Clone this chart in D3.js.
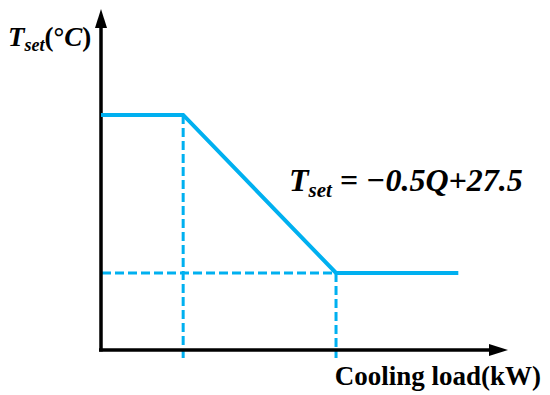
<!DOCTYPE html>
<html>
<head>
<meta charset="utf-8">
<script src="https://cdn.jsdelivr.net/npm/d3@7"></script>
<style>
  body { margin: 0; background: #fff; }
  svg text { font-family: "Liberation Serif", "Times New Roman", serif; font-weight: bold; }
</style>
</head>
<body>
<div id="viz"></div>
<script>
const width = 550
const height = 395

// schematic setpoint curve: Tset = -0.5Q + 27.5 between the two breakpoints
const loadQ = [-0.15, 2, 6, 9.2]
const tsetValues = [26.5, 26.5, 24.5, 24.5]
const breakQ = [2, 6]
const breakT = [26.5, 24.5]

const blue = "#00b0f0"

const xScale = d3.scaleLinear().domain([-0.15, 10.5]).range([101, 508])
const yScale = d3.scaleLinear().domain([23.525, 27.84]).range([350, 9])

const svg = d3.select("#viz").append("svg")
  .attr("width", width)
  .attr("height", height)

const x0 = xScale.domain()[0]
const y0 = yScale.domain()[0]

// dashed guide lines
svg.selectAll(".vguide")
  .data(breakQ)
  .enter().append("line")
  .attr("class", "vguide")
  .attr("x1", d => xScale(d))
  .attr("x2", d => xScale(d))
  .attr("y1", (d, i) => yScale(breakT[i]))
  .attr("y2", yScale(y0) + 8)
  .attr("stroke", blue)
  .attr("stroke-width", 3)
  .attr("stroke-dasharray", "9,4")

svg.append("line")
  .attr("x1", xScale(x0) + 1)
  .attr("x2", xScale(breakQ[1]))
  .attr("y1", yScale(breakT[1]))
  .attr("y2", yScale(breakT[1]))
  .attr("stroke", blue)
  .attr("stroke-width", 3)
  .attr("stroke-dasharray", "9,4")

// axes without ticks
const xAxisG = svg.append("g")
  .attr("transform", "translate(0," + yScale(y0) + ")")
  .call(d3.axisBottom(xScale).tickValues([]).tickSizeOuter(0))
xAxisG.select(".domain")
  .attr("d", "M" + (xScale(x0) - 2) + ",0H" + (xScale.range()[1] - 16))
  .attr("stroke", "#000")
  .attr("stroke-width", 3.5)

const yAxisG = svg.append("g")
  .attr("transform", "translate(" + xScale(x0) + ",0)")
  .call(d3.axisLeft(yScale).tickValues([]).tickSizeOuter(0))
yAxisG.select(".domain")
  .attr("d", "M0," + (yScale(y0) + 1.5) + "V" + (yScale.range()[1] + 16))
  .attr("stroke", "#000")
  .attr("stroke-width", 3.5)

// arrow heads
const xe = xScale.range()[1], ye = yScale(y0)
svg.append("path")
  .attr("d", `M${xe},${ye}L${xe - 19},${ye - 6}L${xe - 19},${ye + 6}Z`)
  .attr("fill", "#000")
const xa = xScale(x0), ya = yScale.range()[1]
svg.append("path")
  .attr("d", `M${xa},${ya}L${xa - 6},${ya + 19}L${xa + 6},${ya + 19}Z`)
  .attr("fill", "#000")

// setpoint curve
const line = d3.line()
  .x(d => xScale(d[0]))
  .y(d => yScale(d[1]))

svg.append("path")
  .datum(loadQ.map((q, i) => [q, tsetValues[i]]))
  .attr("d", line)
  .attr("fill", "none")
  .attr("stroke", blue)
  .attr("stroke-width", 4)

// axis labels
const yLabel = svg.append("text")
  .attr("x", 8)
  .attr("y", 46)
  .style("font-size", "27px")
yLabel.append("tspan").style("font-style", "italic").text("T")
yLabel.append("tspan").style("font-style", "italic").style("font-size", "18px").attr("dy", 5).text("set")
yLabel.append("tspan").attr("dy", -5).text("(°")
yLabel.append("tspan").style("font-style", "italic").text("C")
yLabel.append("tspan").text(")")

svg.append("text")
  .attr("x", 541)
  .attr("y", 385)
  .attr("text-anchor", "end")
  .style("font-size", "27px")
  .text("Cooling load(kW)")

// equation
const eq = svg.append("text")
  .attr("x", 289)
  .attr("y", 191)
  .style("font-size", "32px")
  .style("font-style", "italic")
eq.append("tspan").text("T")
eq.append("tspan").style("font-size", "21px").attr("dy", 6).text("set")
eq.append("tspan").attr("dy", -6).style("font-style", "normal").text(" = ")
eq.append("tspan").text("\u22120.5Q+27.5")
</script>
</body>
</html>
